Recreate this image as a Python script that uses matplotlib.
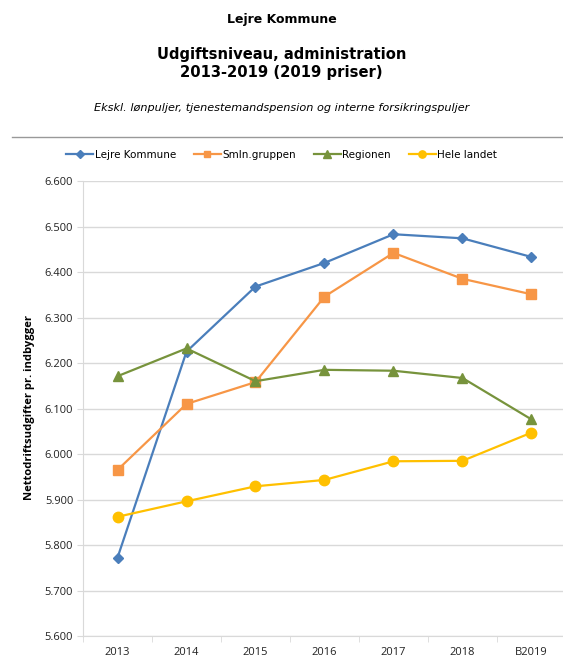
import matplotlib
matplotlib.use("Agg")
import matplotlib.pyplot as plt
from matplotlib.lines import Line2D

# -------------------------------------------------
# Data
# -------------------------------------------------
categories = ["2013", "2014", "2015", "2016", "2017", "2018", "B2019"]

lejre = [5772, 6225, 6368, 6420, 6483, 6474, 6433]
smln = [5965, 6110, 6158, 6346, 6442, 6385, 6351]
regionen = [6171, 6232, 6160, 6185, 6183, 6167, 6076]
hele_landet = [5862, 5896, 5929, 5943, 5984, 5985, 6047]

series_names = ["Lejre Kommune", "Smln.gruppen", "Regionen", "Hele landet"]

yticks = [5600, 5700, 5800, 5900, 6000, 6100, 6200, 6300, 6400, 6500, 6600]

# -------------------------------------------------
# Figure
# -------------------------------------------------
W, H = 563, 659
fig = plt.figure(figsize=(W / 100, H / 100), dpi=100)

fig.text(0.5, 1 - 20 / H, "Lejre Kommune", ha="center", va="center",
         fontsize=9, fontweight="bold", family="DejaVu Sans")
fig.text(0.5, 1 - 54 / H, "Udgiftsniveau, administration",
         ha="center", va="center", fontsize=10.6, fontweight="bold",
         family="DejaVu Sans")
fig.text(0.5, 1 - 73 / H, "2013-2019 (2019 priser)",
         ha="center", va="center", fontsize=10.6, fontweight="bold",
         family="DejaVu Sans")
fig.text(0.5, 1 - 108 / H,
         "Ekskl. lønpuljer, tjenestemandspension og interne forsikringspuljer",
         ha="center", va="center", fontsize=8.1, style="italic",
         family="DejaVu Sans")
fig.add_artist(Line2D([12 / W, 1.0], [1 - 137 / H, 1 - 137 / H],
                      color="#999999", lw=1.0))

ax = fig.add_axes([83 / W, 1 - 636 / H, 483 / W, 455 / H])

x = list(range(len(categories)))
styles = [
    (lejre, "#4A7EBB", "D", 5.5),
    (smln, "#F79646", "s", 7),
    (regionen, "#77933C", "^", 7.5),
    (hele_landet, "#FFC000", "o", 7.5),
]
handles = []
for (vals, color, marker, ms), name in zip(styles, series_names):
    h, = ax.plot(x, vals, color=color, lw=1.6, marker=marker, ms=ms,
                 markeredgecolor=color, label=name)
    handles.append(h)

ax.set_xlim(-0.5, 6.5)
ax.set_ylim(5600, 6600)
ax.set_yticks(yticks)
ax.set_yticklabels([f"{v // 1000}.{v % 1000:03d}" for v in yticks])
ax.set_xticks(x)
ax.set_xticklabels(categories)
ax.set_xticks([i + 0.5 for i in range(-1, len(categories))], minor=True)

ax.grid(axis="y", color="#D9D9D9", lw=1.0)
ax.set_axisbelow(True)
for s in ["top", "right"]:
    ax.spines[s].set_visible(False)
ax.spines["left"].set_color("#D9D9D9")
ax.spines["bottom"].set_color("#D9D9D9")
ax.tick_params(axis="x", which="major", length=0, pad=8, labelsize=8,
               colors="#222222")
ax.tick_params(axis="x", which="minor", length=4, color="#D9D9D9")
ax.tick_params(axis="y", length=4, color="#D9D9D9", labelsize=8,
               colors="#222222", pad=3)
for lbl in ax.get_xticklabels() + ax.get_yticklabels():
    lbl.set_family("Open Sans")

fig.text(30 / W, 1 - 407 / H, "Nettodriftsudgifter pr. indbygger",
         rotation=90, ha="center", va="center", fontsize=8.1,
         fontweight="bold", family="Open Sans")

fig.legend(handles=handles, loc="center", bbox_to_anchor=(0.5, 1 - 155 / H),
           ncol=4, frameon=False, handlelength=2.6,
           handletextpad=0.15, columnspacing=1.7, markerscale=0.7,
           prop={"family": "DejaVu Sans", "size": 7.5})

fig.savefig("out.png", dpi=100)
